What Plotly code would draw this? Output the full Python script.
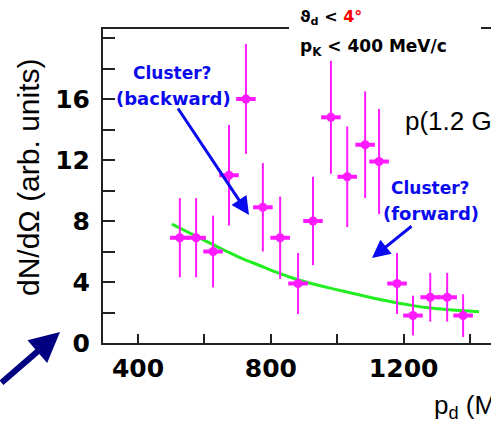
import plotly.graph_objects as go

# ---- data ----
p_d = [526, 575, 626, 674, 725, 776, 828, 882, 927, 981, 1030, 1084, 1126, 1180, 1228, 1280, 1331, 1379]
dn_domega = [6.9, 6.9, 6.0, 11.0, 16.0, 8.9, 6.9, 3.9, 8.0, 14.8, 10.9, 13.0, 11.9, 3.9, 1.8, 3.0, 3.0, 1.8]
err = [2.6, 2.6, 2.35, 3.3, 3.6, 2.9, 2.7, 2.0, 2.9, 3.7, 3.3, 3.5, 3.45, 2.0, 1.3, 1.6, 1.6, 1.4]

curve_x = [502, 566, 626, 668, 707, 770, 828, 882, 978, 1039, 1129, 1228, 1280, 1330, 1427]
curve_y = [7.8, 7.1, 6.45, 6.0, 5.6, 5.05, 4.55, 4.15, 3.6, 3.3, 2.85, 2.45, 2.3, 2.2, 2.05]

x_tickvals = [400, 600, 800, 1000, 1200, 1400]
x_ticktext = ["400", "", "800", "", "1200", ""]
y_tickvals = [0, 2, 4, 6, 8, 10, 12, 14, 16, 18, 20]
y_ticktext = ["0", "", "4", "", "8", "", "12", "", "16", "", ""]

MAG = "#ff1aff"
GREEN = "#22ee22"
BLUE = "#0a0aee"
NAVY = "#000080"

fig = go.Figure()
fig.add_trace(go.Scatter(x=curve_x, y=curve_y, mode="lines", line_shape="spline",
                         line=dict(color=GREEN, width=3), hoverinfo="skip"))
fig.add_trace(go.Scatter(x=p_d, y=dn_domega, mode="markers",
                         error_y=dict(type="data", array=err, color=MAG, thickness=2, width=0),
                         marker=dict(symbol="line-ew", size=14, color=MAG,
                                     line=dict(color=MAG, width=4))))
fig.add_trace(go.Scatter(x=p_d, y=dn_domega, mode="markers",
                         marker=dict(symbol="circle", size=9, color=MAG, line=dict(width=0))))

W, H = 491, 421
L, R, T, B = 103, 0, 29, 78
pw = W - L - R
ph = H - T - B

def px(x):
    return (x - L) / pw

def py(y):
    return (H - B - y) / ph

fig.update_layout(
    width=W, height=H,
    margin=dict(l=L, r=R, t=T, b=B, pad=0),
    paper_bgcolor="white", plot_bgcolor="white",
    showlegend=False,
    xaxis=dict(range=[294.6, 1463], showgrid=False, zeroline=False,
               showline=True, linecolor="#222", linewidth=2, mirror=True,
               ticks="inside", ticklen=9, tickwidth=2, tickcolor="#222",
               tickvals=x_tickvals, ticktext=x_ticktext,
               ticklabelstandoff=2,
               tickfont=dict(family="DejaVu Sans", size=25, color="black", weight="bold")),
    yaxis=dict(range=[0, 20.59], showgrid=False, zeroline=False,
               showline=True, linecolor="#222", linewidth=2,
               ticks="inside", ticklen=12, tickwidth=2, tickcolor="#222",
               tickvals=y_tickvals, ticktext=y_ticktext,
               ticklabelstandoff=6,
               tickfont=dict(family="DejaVu Sans", size=25, color="black", weight="bold")),
)

# white gap in the top frame line
fig.add_shape(type="rect", xref="paper", yref="paper",
              x0=px(289), x1=px(481), y0=py(34), y1=py(24),
              fillcolor="white", line=dict(width=0), layer="above")

anns = []
def txt(text, x, y, size, color="black", family="DejaVu Sans", weight="bold", xanchor="center", angle=0):
    anns.append(dict(text=text, x=px(x), y=py(y), xref="paper", yref="paper",
                     xanchor=xanchor, yanchor="middle", showarrow=False, textangle=angle,
                     font=dict(family=family, size=size, color=color, weight=weight)))

txt("Cluster?", 172, 73, 17, BLUE)
txt("(backward)", 173, 99, 18, BLUE)
txt("Cluster?", 430, 188, 17, BLUE)
txt("(forward)", 431, 213, 18, BLUE)
txt("p(1.2 GeV)", 403, 121, 26, "black", "Liberation Sans", "normal", "left")
txt("ϑ<sub>d</sub> < <span style='color:#ff0000'>4°</span>", 298, 18, 16, "black", xanchor="left")
txt("p<sub>K</sub> < 400 MeV/c", 298, 47, 17, "black", xanchor="left")
txt("dN/dΩ (arb. units)", 28, 177, 30, "black", "Liberation Sans", "normal", angle=-90)
txt("p<sub>d</sub> (MeV/c)", 432, 406, 26, "black", "Liberation Sans", "normal", "left")

def arrow(hx, hy, tx, ty, color, width, head=2, size=1.0):
    anns.append(dict(x=px(hx), y=py(hy), xref="paper", yref="paper",
                     ax=tx - hx, ay=ty - hy, axref="pixel", ayref="pixel",
                     showarrow=True, arrowhead=head, arrowsize=size,
                     arrowwidth=width, arrowcolor=color, text=""))

arrow(249, 215, 177, 107, BLUE, 3, 2, 1.2)
arrow(372, 258, 413, 225, BLUE, 3, 2, 1.2)
arrow(60, 332, -2, 384, NAVY, 6, 2, 1.0)

fig.update_layout(annotations=anns)
fig.write_html("out.html")
